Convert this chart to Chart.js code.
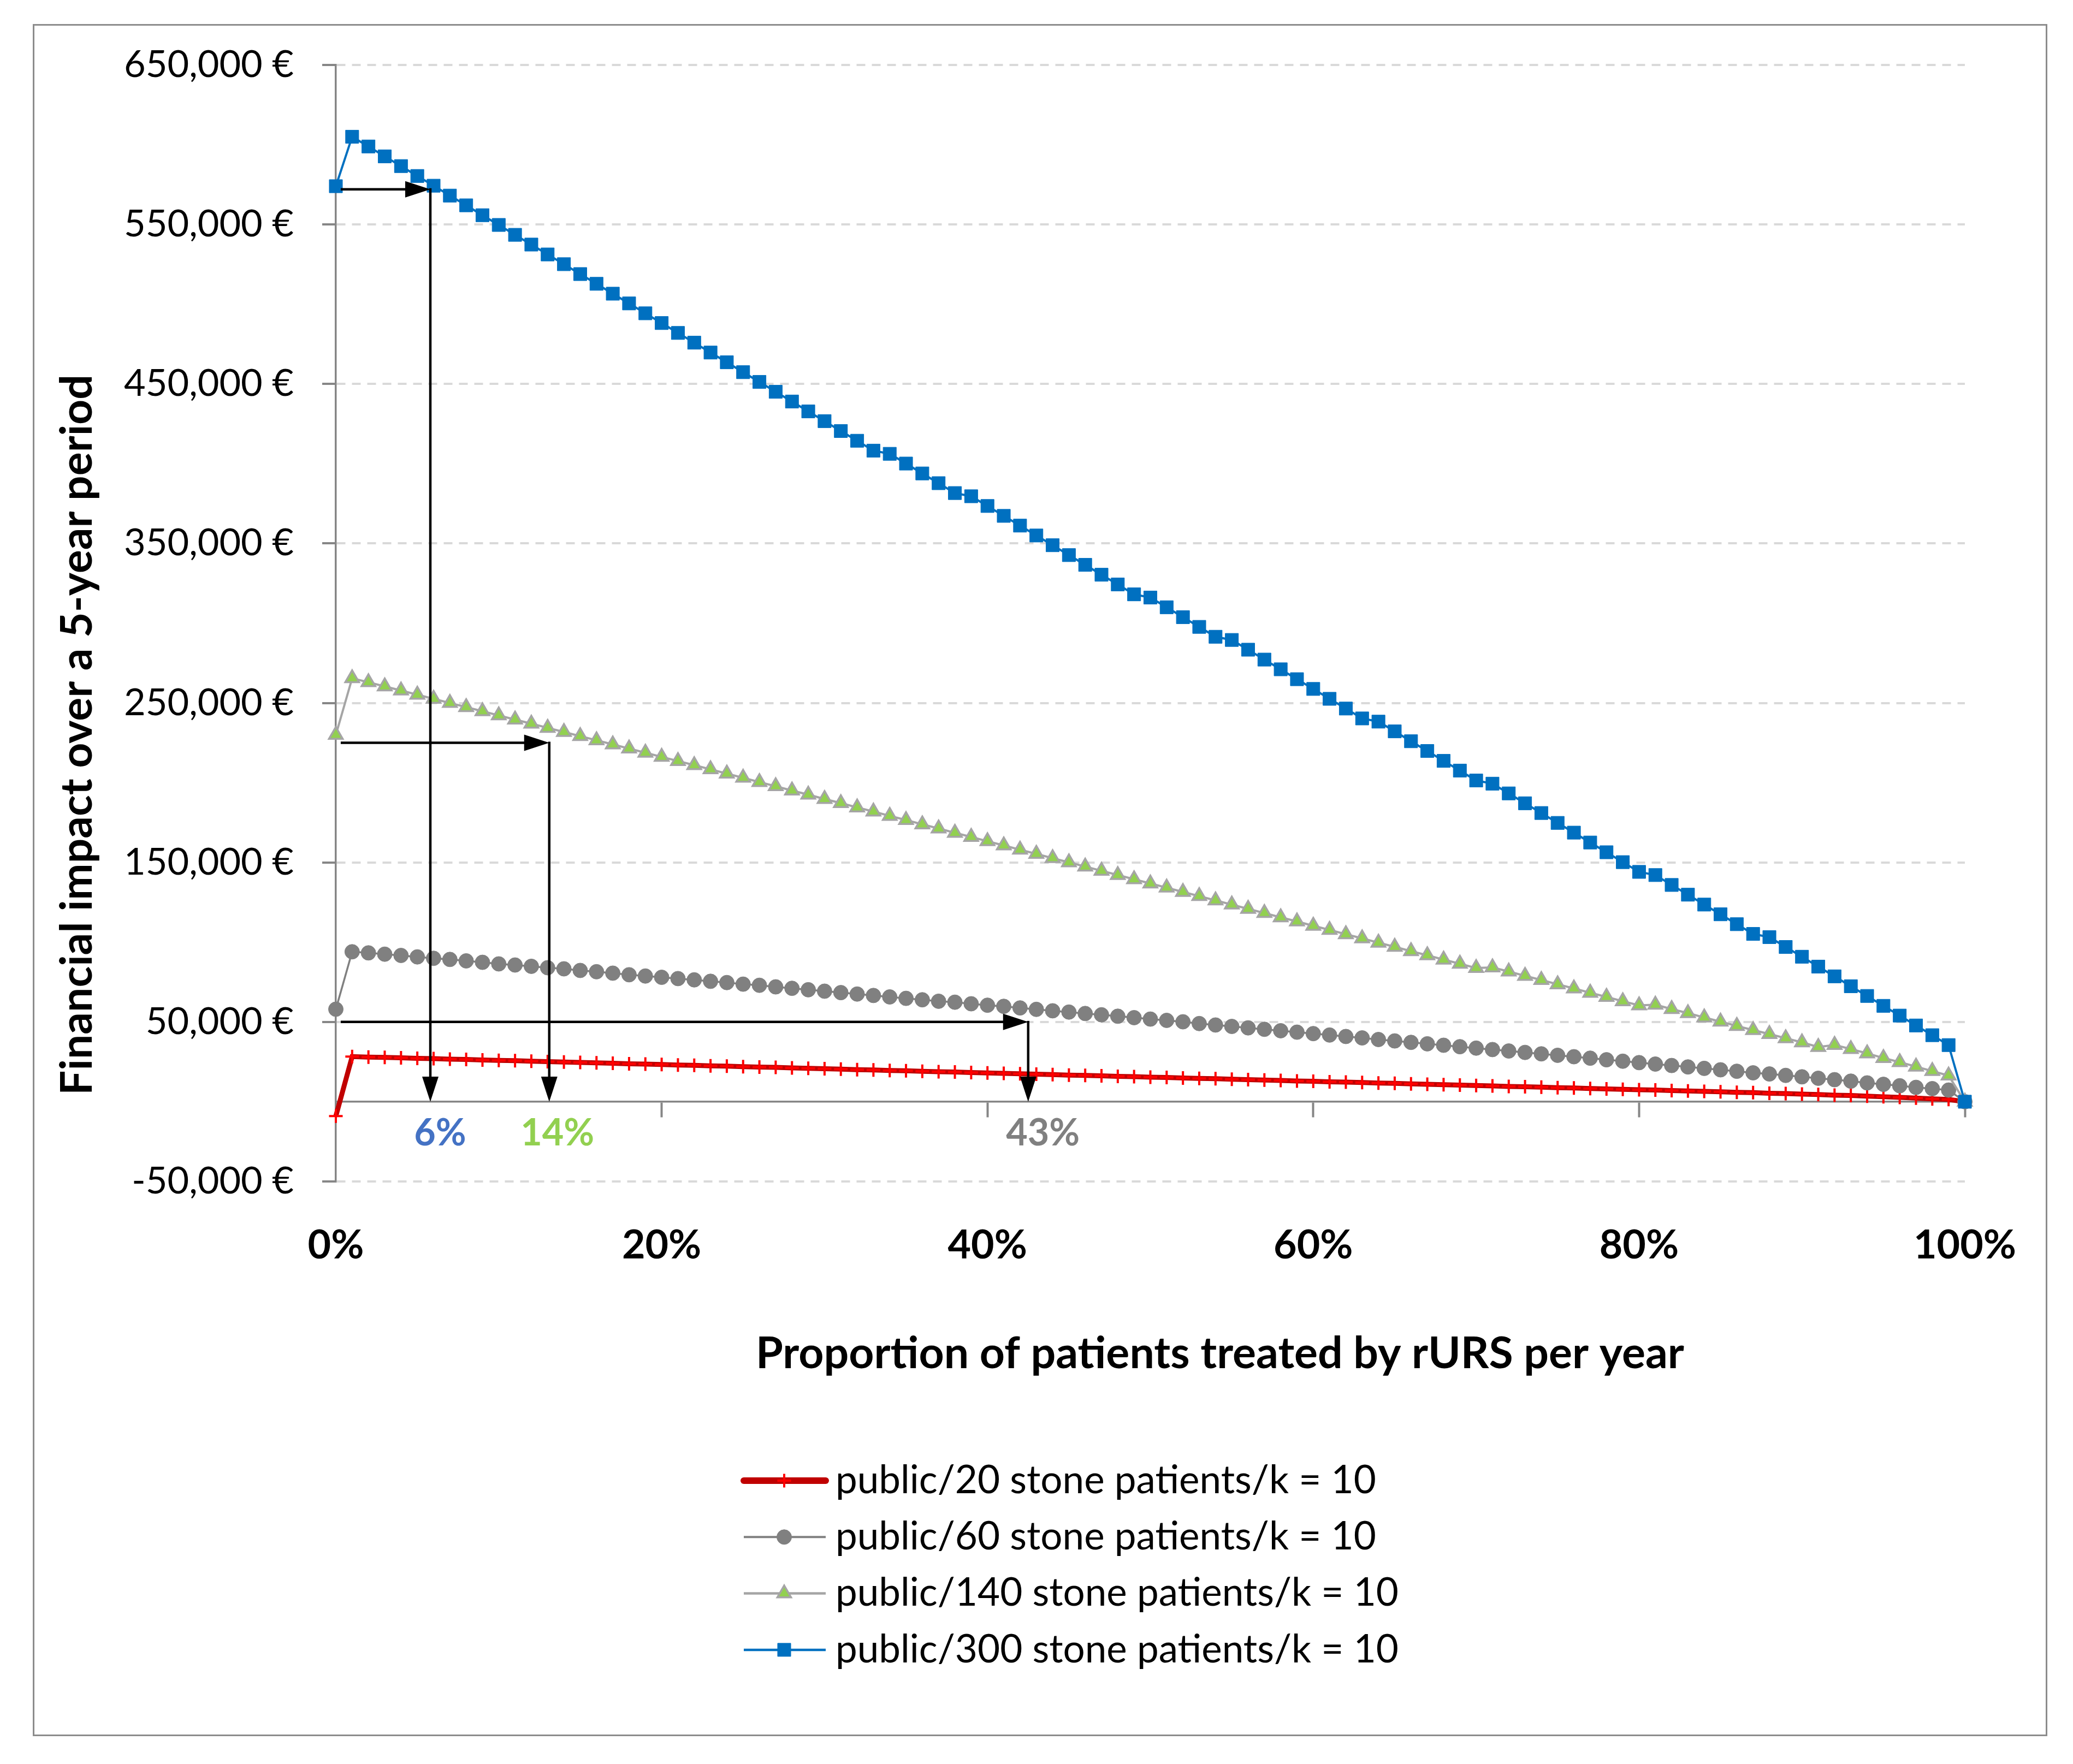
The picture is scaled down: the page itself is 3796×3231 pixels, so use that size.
<!DOCTYPE html>
<html>
<head>
<meta charset="utf-8">
<script src="https://cdn.jsdelivr.net/npm/chart.js@4.4.0/dist/chart.umd.min.js"></script>
<style>
html,body{margin:0;padding:0;background:#fff;}
canvas{display:block;}
</style>
</head>
<body>
<canvas id="c" width="3796" height="3231" style="width:3796px;height:3231px"></canvas>
<script>
// ---------------- data ----------------
const pct = [0,1,2,3,4,5,6,7,8,9,10,11,12,13,14,15,16,17,18,19,20,21,22,23,24,25,26,27,28,29,30,31,32,33,34,35,36,37,38,39,40,41,42,43,44,45,46,47,48,49,50,51,52,53,54,55,56,57,58,59,60,61,62,63,64,65,66,67,68,69,70,71,72,73,74,75,76,77,78,79,80,81,82,83,84,85,86,87,88,89,90,91,92,93,94,95,96,97,98,99,100];

const seriesLabels = [
  'public/20 stone patients/k = 10',
  'public/60 stone patients/k = 10',
  'public/140 stone patients/k = 10',
  'public/300 stone patients/k = 10'
];

const public20 = [-9000,28300,28000,27800,27500,27200,27000,26700,26500,26200,25900,25700,25400,25100,24900,24600,24400,24100,23800,23600,23300,23000,22800,22500,22300,22000,21700,21500,21200,20900,20700,20400,20100,19900,19600,19400,19100,18800,18600,18300,18000,17800,17500,17300,17000,16700,16500,16200,15900,15700,15400,15200,14900,14600,14400,14100,13800,13600,13300,13000,12800,12500,12300,12000,11700,11500,11200,10900,10700,10400,10200,9900,9600,9400,9100,8800,8600,8300,8000,7800,7500,7300,7000,6700,6500,6200,5900,5700,5300,5100,4800,4500,4100,3900,3500,3100,2700,2300,1800,1400,0];

const public60 = [58000,94000,93300,92500,91700,90800,89900,89200,88300,87400,86400,85700,84900,84000,83300,82300,81500,80600,79600,78800,78000,77200,76400,75500,74700,73700,73000,72000,71100,70200,69300,68400,67500,66600,65700,64800,63900,63000,62400,61400,60500,59800,58800,57900,57000,56200,55300,54500,53600,52700,51800,51000,50100,49000,48100,47200,46300,45400,44500,43600,42700,41800,40900,40000,39000,38100,37200,36300,35400,34500,33600,32700,31800,30900,30000,29100,28200,27300,26300,25400,24500,23600,22700,21800,20900,20000,19100,18100,17400,16500,15600,14700,13800,12900,11800,10900,10000,9000,8200,7300,0];

const public140 = [230000,265500,263000,260400,257800,255200,252600,250000,247400,244800,242200,239600,237000,234400,231800,229200,226600,224000,221400,218800,216200,213600,211000,208400,205700,203100,200400,197800,195100,192500,189800,187200,184500,181900,179200,176600,173900,171300,168600,166000,163300,160700,158000,155400,152700,150100,147400,144800,142100,139500,136800,134200,131500,128900,126200,123600,120900,118300,115600,113000,110300,107700,105000,102400,99700,97100,94400,91800,89100,86500,83800,84200,81600,78900,76300,73600,71000,68300,65700,63000,60400,60800,58100,55500,52800,50200,47500,44900,42400,39800,37200,34300,35600,33000,30300,27400,24800,22000,19200,16400,0];

const public300 = [574000,605000,598900,592700,586600,580400,574300,568100,562000,555800,549700,543500,537400,531200,525100,518900,512800,506600,500500,494300,488200,482000,475900,469700,463600,457400,451300,445100,439000,432800,426700,420500,414400,408200,406200,400100,393900,387800,381600,379600,373500,367300,361200,355000,348900,342700,336600,330400,324300,318100,316100,310000,303800,297700,291500,289500,283400,277200,271100,264900,258800,252600,246500,240300,238300,232200,226000,219900,213700,207600,201400,199400,193300,187100,181000,174800,168700,162500,156400,150200,144100,142100,135900,129800,123600,117500,111300,105200,103200,97000,90900,84700,78600,72400,66300,60100,54000,47800,41700,35500,0];

const xTickValues = [0,20,40,60,80,100];
const yTickValues = [-50000,50000,150000,250000,350000,450000,550000,650000];

const xTitle = 'Proportion of patients treated by rURS per year';
const yTitle = 'Financial impact over a 5-year period';

// annotation arrows: break-even proportion for each case
const arrowTargets = [5.8, 13.1, 42.5];
const arrowLevels = [572000, 225000, 50000];
const arrowLabels = ['6%', '14%', '43%'];
const arrowLabelAt = [6.4, 13.6, 43.4];

// ---------------- styles / layout ----------------
const FAM = 'Lato, Carlito, "Open Sans", sans-serif';
function fitSize(text, weight, target) {
  const c = document.createElement('canvas').getContext('2d');
  c.font = weight + ' 100px ' + FAM;
  return 100 * target / c.measureText(text).width;
}
const yTickSize = fitSize('650,000 €', 'normal', 311);
const xTickSize = fitSize('100%', 'bold', 188);
const legendSize = fitSize(seriesLabels[0], 'normal', 990);
const xTitleSize = fitSize(xTitle, 'bold', 1700);
const yTitleSize = fitSize(yTitle, 'bold', 1320);
const noteSize = fitSize('43%', 'bold', 135);

const styles = [
  {line:'#C00000', width:9, legendWidth:12, cap:'round', point:'cross', r:12.5, fill:'#FF0000', stroke:'#FF0000', pbw:4, order:3},
  {line:'#808080', width:3.5, legendWidth:4, cap:'butt', point:'circle', r:13.5, fill:'#808080', stroke:'#808080', pbw:1, order:2},
  {line:'#A5A5A5', width:4, legendWidth:4.5, cap:'butt', point:'triangle', r:14.5, fill:'#92D050', stroke:'#A5A5A5', pbw:3.5, order:1},
  {line:'#0070C0', width:4, legendWidth:4.5, cap:'butt', point:'rect', r:17, fill:'#0070C0', stroke:'#0070C0', pbw:1, order:0}
];
const noteColors = ['#4472C4', '#92D050', '#808080'];
const seriesValues = [public20, public60, public140, public300];

const datasets = seriesValues.map((vals, i) => {
  const s = styles[i];
  return {
    label: seriesLabels[i],
    data: pct.map((p, k) => ({x: p, y: vals[k]})),
    borderColor: s.line,
    backgroundColor: s.fill,
    borderWidth: s.width,
    pointStyle: s.point,
    pointRadius: s.r,
    pointHoverRadius: s.r,
    pointBackgroundColor: s.fill,
    pointBorderColor: s.stroke,
    pointBorderWidth: s.pbw,
    tension: 0,
    fill: false,
    clip: false,
    order: s.order
  };
});

const decor = {
  id: 'decor',
  beforeDraw(chart) {
    const c = chart.ctx;
    c.save();
    c.fillStyle = '#fff';
    c.fillRect(0, 0, chart.width, chart.height);
    c.strokeStyle = '#8c8c8c';
    c.lineWidth = 3;
    c.strokeRect(61.5, 45.5, 3686, 3133);
    c.restore();
  },
  afterDatasetsDraw(chart) {
    const c = chart.ctx, xs = chart.scales.x, ys = chart.scales.y;
    const y0 = ys.getPixelForValue(0);
    const xStart = xs.getPixelForValue(0.3);
    c.save();
    c.strokeStyle = '#000';
    c.fillStyle = '#000';
    c.lineWidth = 4.5;
    const head = (x, y, dx, dy) => {
      const L = 46, W = 15;
      const bx = x - L * dx, by = y - L * dy;
      c.beginPath();
      c.moveTo(x, y);
      c.lineTo(bx - W * dy, by + W * dx);
      c.lineTo(bx + W * dy, by - W * dx);
      c.closePath();
      c.fill();
      return [bx, by];
    };
    arrowTargets.forEach((t, k) => {
      const xe = xs.getPixelForValue(t);
      const yl = ys.getPixelForValue(arrowLevels[k]);
      let [bx] = head(xe, yl, 1, 0);
      c.beginPath(); c.moveTo(xStart, yl); c.lineTo(bx + 1, yl); c.stroke();
      let [, by] = head(xe, y0, 0, 1);
      c.beginPath(); c.moveTo(xe, yl - 2); c.lineTo(xe, by + 1); c.stroke();
      c.font = 'bold ' + noteSize + 'px ' + FAM;
      c.fillStyle = noteColors[k];
      c.textAlign = 'center';
      c.textBaseline = 'middle';
      c.fillText(arrowLabels[k], xs.getPixelForValue(arrowLabelAt[k]), 2076);
      c.fillStyle = '#000';
    });
    c.restore();
  },
  afterDraw(chart) {
    const c = chart.ctx;
    c.save();
    c.fillStyle = '#000';
    c.textAlign = 'center';
    c.textBaseline = 'middle';
    c.font = 'bold ' + xTitleSize + 'px ' + FAM;
    c.fillText(xTitle, 2234, 2480);
    c.save();
    c.translate(142, 1346);
    c.rotate(-Math.PI / 2);
    c.font = 'bold ' + yTitleSize + 'px ' + FAM;
    c.fillText(yTitle, 0, 0);
    c.restore();
    chart.data.datasets.forEach((ds, i) => {
      const s = styles[i];
      const y = 2712 + i * 103.3;
      c.save();
      c.strokeStyle = s.line;
      c.lineWidth = s.legendWidth;
      c.lineCap = s.cap;
      c.beginPath(); c.moveTo(1362, y); c.lineTo(1512, y); c.stroke();
      c.fillStyle = s.fill;
      c.strokeStyle = s.stroke;
      c.lineWidth = s.pbw;
      c.lineCap = 'butt';
      Chart.helpers.drawPoint(c, {pointStyle: s.point, radius: s.r, rotation: 0, borderWidth: s.pbw}, 1436, y);
      c.restore();
      c.font = legendSize + 'px ' + FAM;
      c.textAlign = 'left';
      c.fillStyle = '#000';
      c.fillText(ds.label, 1530, y);
    });
    c.restore();
  }
};

new Chart(document.getElementById('c'), {
  type: 'line',
  data: {datasets},
  options: {
    responsive: false,
    animation: false,
    devicePixelRatio: 1,
    events: [],
    layout: {padding: {left: 0, top: 119, right: 198, bottom: 850}},
    plugins: {legend: {display: false}, tooltip: {enabled: false}, title: {display: false}},
    scales: {
      x: {
        type: 'linear', position: 'bottom', min: 0, max: 100,
        afterBuildTicks: s => { s.ticks = xTickValues.map(v => ({value: v})); },
        afterFit: s => { s.height = 217; },
        grid: {display: false, drawTicks: false},
        border: {display: false},
        ticks: {
          color: '#000', font: {family: FAM, size: xTickSize, weight: 'bold'},
          padding: 117 - 0.6 * xTickSize, maxRotation: 0, autoSkip: false,
          callback: v => v + '%'
        }
      },
      x0: {
        type: 'linear', axis: 'x', position: {y: 0}, min: 0, max: 100,
        afterBuildTicks: s => { s.ticks = xTickValues.map(v => ({value: v})); },
        grid: {drawOnChartArea: false, drawTicks: true, tickLength: 27, tickColor: '#868686', tickWidth: 4, tickBorderDash: []},
        border: {display: true, color: '#868686', width: 3.5},
        ticks: {display: false}
      },
      y: {
        type: 'linear', position: 'left', min: -50000, max: 650000,
        afterBuildTicks: s => { s.ticks = yTickValues.map(v => ({value: v})); },
        afterFit: s => { s.width = 615; },
        grid: {color: '#D9D9D9', lineWidth: 4, drawTicks: true, tickLength: 25, tickColor: '#868686', tickWidth: 4, tickBorderDash: []},
        border: {display: true, color: '#868686', width: 3.5, dash: [16, 12]},
        ticks: {
          color: '#000', font: {family: FAM, size: yTickSize},
          padding: 52,
          callback: v => v.toLocaleString('en-US') + ' €'
        }
      }
    }
  },
  plugins: [decor]
});
</script>
</body>
</html>
